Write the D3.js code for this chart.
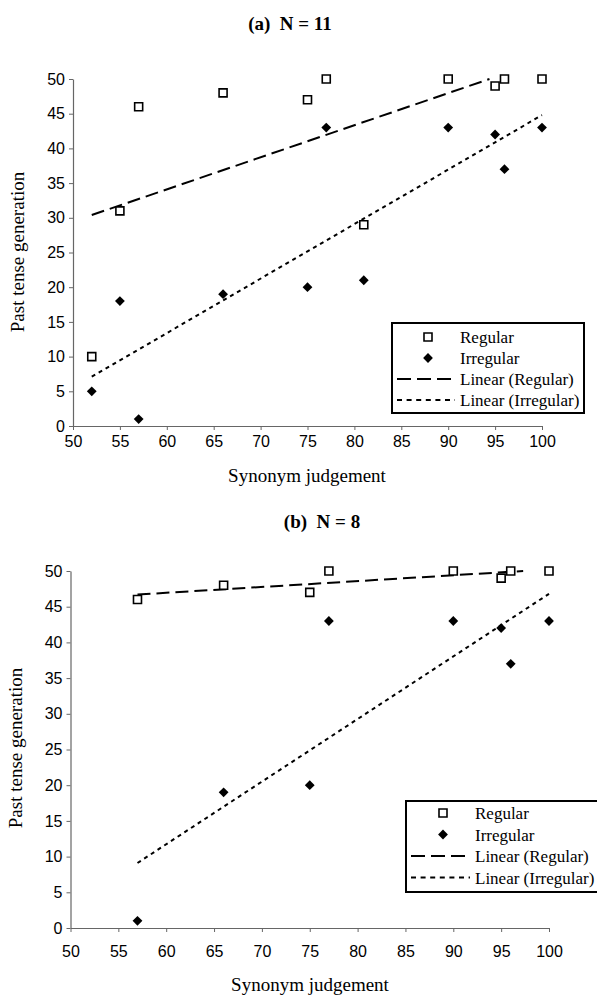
<!DOCTYPE html>
<html><head><meta charset="utf-8">
<script src="https://cdn.jsdelivr.net/npm/d3@7"></script>
<style>body{margin:0;background:#fff} svg{display:block}</style>
</head><body>
<svg id="c" width="597" height="996"></svg>
<script>
// ---- data ----
const xTicks = [50,55,60,65,70,75,80,85,90,95,100];
const yTicks = [0,5,10,15,20,25,30,35,40,45,50];
const synonymA   = [52,55,57,66,75,77,81,90,95,96,100];
const regularA   = [10,31,46,48,47,50,29,50,49,50,50];
const irregularA = [5,18,1,19,20,43,21,43,42,37,43];
const synonymB   = [57,66,75,77,90,95,96,100];
const regularB   = [46,48,47,50,50,49,50,50];
const irregularB = [1,19,20,43,43,42,37,43];
// trend line end points
const trendRegA = [[52,30.4],[94.4,50]];
const trendIrrA = [[52,7.1],[100,44.8]];
const trendRegB = [[57,46.7],[97.3,50]];
const trendIrrB = [[57,9.1],[100,46.8]];
const legendLabels = ["Regular","Irregular","Linear (Regular)","Linear (Irregular)"];
const titles = ["(a)  N = 11","(b)  N = 8"];
const xTitle = "Synonym judgement";
const yTitle = "Past tense generation";

const svg = d3.select("#c");
const SERIF = "'Liberation Serif','Times New Roman',serif";
const SANS = "'Liberation Sans',Arial,sans-serif";
const REG_DASH = "13,6";
const IRR_DASH = "4,4";

function panel(cfg){
  const g = svg.append("g");
  const x = d3.scaleLinear().domain([50,100]).range(cfg.xr);
  const y = d3.scaleLinear().domain([0,50]).range(cfg.yr);

  // title
  g.append("text").attr("x",cfg.titleX).attr("y",cfg.titleY)
    .attr("text-anchor","middle").style("font-family",SERIF)
    .style("font-weight","bold").style("font-size","19px")
    .style("white-space","pre").text(cfg.title);

  // axes
  const ya = g.append("g").attr("transform",`translate(${cfg.xr[0]},0)`)
    .call(d3.axisLeft(y).tickValues(yTicks).tickSizeInner(4).tickSizeOuter(0).tickPadding(4));
  const xa = g.append("g").attr("transform",`translate(0,${cfg.yr[0]})`)
    .call(d3.axisBottom(x).tickValues(xTicks).tickSizeInner(4).tickSizeOuter(0).tickPadding(cfg.xPad));
  [ya,xa].forEach(a=>{
    a.select(".domain").attr("stroke","#666").attr("stroke-width",1.2);
    a.selectAll(".tick line").attr("stroke","#666");
    a.selectAll(".tick text").style("font-family",SANS).style("font-size","16px").attr("fill","#000");
  });

  // axis titles
  g.append("text").attr("x",cfg.xTitleX).attr("y",cfg.xTitleY).attr("text-anchor","middle")
    .style("font-family",SERIF).style("font-size","19px").text(xTitle);
  g.append("text").attr("transform",`translate(${cfg.yTitleX},${cfg.yTitleY}) rotate(-90)`)
    .attr("text-anchor","middle").style("font-family",SERIF).style("font-size","19px").text(yTitle);

  // trend lines
  const line = d3.line().x(d=>x(d[0])).y(d=>y(d[1]));
  g.append("path").datum(cfg.trendReg).attr("d",line).attr("fill","none")
    .attr("stroke","#000").attr("stroke-width",2).attr("stroke-dasharray",REG_DASH);
  g.append("path").datum(cfg.trendIrr).attr("d",line).attr("fill","none")
    .attr("stroke","#000").attr("stroke-width",2).attr("stroke-dasharray",IRR_DASH);

  // points
  const sq = d3.symbol(d3.symbolSquare).size(64)();
  const dm = d3.symbol(d3.symbolSquare).size(48)();
  g.selectAll(".reg").data(cfg.sx.map((v,i)=>[v,cfg.reg[i]])).join("path")
    .attr("d",sq).attr("transform",d=>`translate(${x(d[0])},${y(d[1])})`)
    .attr("fill","#fff").attr("stroke","#000").attr("stroke-width",1.6);
  g.selectAll(".irr").data(cfg.sx.map((v,i)=>[v,cfg.irr[i]])).join("path")
    .attr("d",dm).attr("transform",d=>`translate(${x(d[0])},${y(d[1])}) rotate(45)`)
    .attr("fill","#000");

  // legend
  const L = cfg.legend;
  const lg = g.append("g");
  lg.append("rect").attr("x",L.x).attr("y",L.y).attr("width",L.w).attr("height",L.h)
    .attr("fill","#fff").attr("stroke","#000").attr("stroke-width",2);
  legendLabels.forEach((lab,i)=>{
    const cy = L.y + L.row0 + i*L.dy;
    lg.append("text").attr("x",L.tx).attr("y",cy+6).style("font-family",SERIF)
      .style("font-size","17px").text(lab);
    if(i===0) lg.append("path").attr("d",sq).attr("transform",`translate(${L.sx},${cy})`)
      .attr("fill","#fff").attr("stroke","#000").attr("stroke-width",1.6);
    if(i===1) lg.append("path").attr("d",dm).attr("transform",`translate(${L.sx},${cy}) rotate(45)`)
      .attr("fill","#000");
    if(i>=2) lg.append("line").attr("x1",L.x+5).attr("x2",L.tx-5).attr("y1",cy).attr("y2",cy)
      .attr("stroke","#000").attr("stroke-width",2)
      .attr("stroke-dasharray", i===2 ? "14,6" : "5,4.6");
  });
}

panel({
  title: titles[0], titleX: 290, titleY: 30,
  xr:[73,542], yr:[426,79], xPad:6,
  xTitleX: 307, xTitleY: 482, yTitleX: 24, yTitleY: 252,
  sx: synonymA, reg: regularA, irr: irregularA,
  trendReg: trendRegA, trendIrr: trendIrrA,
  legend:{x:392,y:323,w:192,h:90,row0:14,dy:21,sx:428,tx:460}
});
panel({
  title: titles[1], titleX: 322, titleY: 528,
  xr:[70.5,549], yr:[928,571], xPad:14,
  xTitleX: 310, xTitleY: 991, yTitleX: 22, yTitleY: 748,
  sx: synonymB, reg: regularB, irr: irregularB,
  trendReg: trendRegB, trendIrr: trendIrrB,
  legend:{x:406,y:801,w:194,h:91,row0:12,dy:21.5,sx:443,tx:475}
});
</script>
</body></html>
